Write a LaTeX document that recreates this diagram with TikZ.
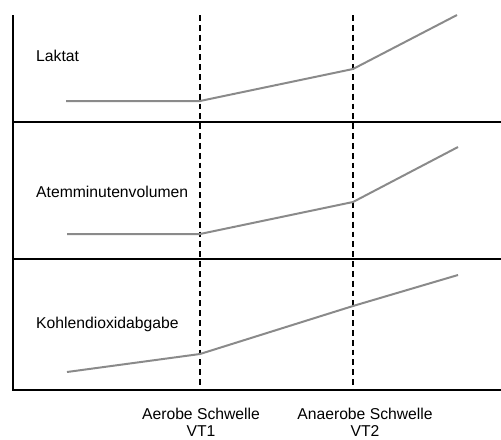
\documentclass[tikz,border=0pt]{standalone}
\usepackage{fontspec}
\setmainfont{Liberation Sans}
\usetikzlibrary{positioning}
\definecolor{curvegray}{HTML}{8A8A8A}
\tikzset{
  axisline/.style={draw=black, line width=2.1pt},
  threshline/.style={draw=black, line width=1.3pt, dash pattern=on 5pt off 3.4pt},
  curveline/.style={draw=curvegray, line width=1.7pt, line join=round},
  panellabel/.style={anchor=west, inner sep=0pt, font=\fontsize{13.4}{14.5}\selectfont},
  threshlabel/.style={align=center, inner sep=0pt, font=\fontsize{13.4}{14.5}\selectfont}}

\begin{document}
\begin{tikzpicture}[x=0.03cm, y=-0.03cm]
    \useasboundingbox (0,0) rectangle (501,439);
    % panels
    \coordinate (origin) at (13,390);
    \coordinate (ytop) at (13,15);
    \coordinate (xend) at (501,390);
    \coordinate (sep1l) at (13,122);
    \coordinate (sep1r) at (501,122);
    \coordinate (sep2l) at (13,259);
    \coordinate (sep2r) at (501,259);
    \draw[axisline] (ytop) -- (origin) -- (xend);
    \draw[axisline] (sep1l) -- (sep1r);
    \draw[axisline] (sep2l) -- (sep2r);
    % thresholds
    \coordinate (vt1top) at (200,15);
    \coordinate (vt1bot) at (200,390);
    \coordinate (vt2top) at (353,15);
    \coordinate (vt2bot) at (353,390);
    \draw[threshline] (vt1top) -- (vt1bot);
    \draw[threshline] (vt2top) -- (vt2bot);
    % curves
    \draw[curveline] (66,101) -- (200,101) -- (353,69) -- (457,15);
    \draw[curveline] (67,234) -- (200,234) -- (353,202) -- (458,147);
    \draw[curveline] (67,372) -- (200,354) -- (353,306) -- (458,275);
    % labels
    \node[panellabel] (laktat) at (36,56) {Laktat};
    \node[panellabel] (amv) at (36,192) {Atemminutenvolumen};
    \node[panellabel] (co2) at (36,324) {Kohlendioxidabgabe};
    \node[threshlabel] (vt1) at (201,422) {Aerobe Schwelle\\VT1};
    \node[threshlabel] (vt2) at (365,422) {Anaerobe Schwelle\\VT2};
\end{tikzpicture}
\end{document}
